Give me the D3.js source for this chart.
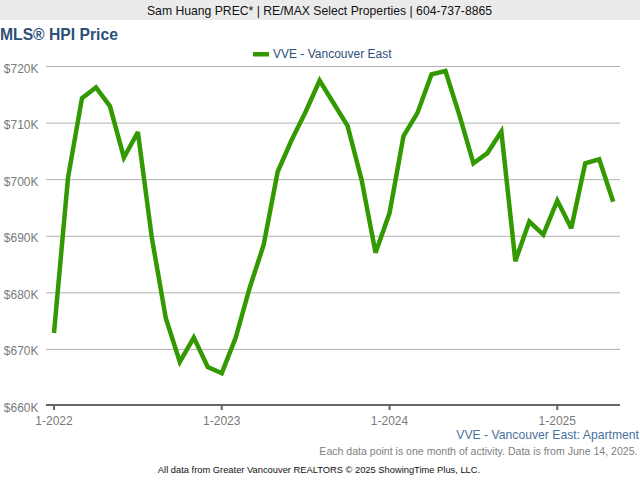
<!DOCTYPE html>
<html><head><meta charset="utf-8">
<script src="https://cdnjs.cloudflare.com/ajax/libs/d3/7.8.5/d3.min.js"></script>
<style>
html,body{margin:0;padding:0;background:#fff;overflow:hidden}
svg{display:block}
text{font-family:"Liberation Sans",Arial,sans-serif}
</style></head><body>
<svg id="c" width="640" height="480"></svg>
<script>
const headerText = "Sam Huang PREC* | RE/MAX Select Properties | 604-737-8865";
const titleText = "MLS® HPI Price";
const seriesName = "VVE - Vancouver East";
const subtitleText = "VVE - Vancouver East: Apartment";
const noteText = "Each data point is one month of activity. Data is from June 14, 2025.";
const creditText = "All data from Greater Vancouver REALTORS © 2025 ShowingTime Plus, LLC.";
const yTicks = [660,670,680,690,700,710,720];
const xTickIndex = [0,12,24,36];
const xTickLabels = ["1-2022","1-2023","1-2024","1-2025"];
const values = [672.9,700.3,714.4,716.3,713.0,703.9,708.4,689.7,675.5,667.8,672.1,666.9,
 665.8,672.1,680.9,688.5,701.4,707.0,712.0,717.5,713.5,709.5,700.0,687.1,
 694.1,707.7,711.8,718.6,719.2,711.4,702.9,704.7,708.5,685.6,692.6,690.3,
 696.3,691.4,702.9,703.6,696.1];

const svg = d3.select("#c");
const x = d3.scaleLinear().domain([0,40]).range([54,613.2]);
const y = d3.scaleLinear().domain([660,720]).range([406,66.5]);
const L = 46, R = 620;

svg.append("rect").attr("x",0).attr("y",0).attr("width",640).attr("height",20).attr("fill","#ebebeb");
svg.append("text").attr("x",319.5).attr("y",15).attr("text-anchor","middle").attr("font-size",12.2).attr("fill","#111").text(headerText);
svg.append("text").attr("x",0).attr("y",40).attr("font-size",15.7).attr("font-weight","bold").attr("fill","#2d5079").text(titleText);

// legend
svg.append("rect").attr("x",253).attr("y",52).attr("width",16).attr("height",4.5).attr("fill","#339900");
svg.append("text").attr("x",273).attr("y",58).attr("font-size",12).attr("fill","#2d5079").text(seriesName);

// grid
svg.append("g").selectAll("line").data(yTicks.filter(d=>d>660)).join("line")
 .attr("x1",L).attr("x2",R).attr("y1",d=>y(d)).attr("y2",d=>y(d))
 .attr("stroke","#b0b0b0").attr("stroke-width",1);

// y axis labels
svg.append("g").selectAll("text").data(yTicks).join("text")
 .attr("x",38.5).attr("y",d=>y(d)+6).attr("text-anchor","end").attr("font-size",12).attr("fill","#7a7a7a")
 .text(d=>"$"+d+"K");

// x axis
svg.append("line").attr("x1",L).attr("x2",R).attr("y1",y(660)-1).attr("y2",y(660)-1).attr("stroke","#666").attr("stroke-width",2);
const xg = svg.append("g").selectAll("g").data(xTickIndex).join("g");
xg.append("line").attr("x1",d=>x(d)).attr("x2",d=>x(d)).attr("y1",y(660)-1).attr("y2",y(660)+4).attr("stroke","#666").attr("stroke-width",2);
xg.append("text").attr("x",d=>x(d)).attr("y",425).attr("text-anchor","middle").attr("font-size",12).attr("fill","#7a7a7a")
 .text((d,i)=>xTickLabels[i]);

// line
svg.append("path").datum(values)
 .attr("d",d3.line().x((d,i)=>x(i)).y(d=>y(d)))
 .attr("fill","none").attr("stroke","#339900").attr("stroke-width",4.5).attr("stroke-linejoin","miter").attr("stroke-miterlimit",3);

svg.append("text").attr("x",639).attr("y",439).attr("text-anchor","end").attr("font-size",12.2).attr("fill","#4a72a0").text(subtitleText);
svg.append("text").attr("x",637.5).attr("y",455).attr("text-anchor","end").attr("font-size",10.55).attr("fill","#7f7f7f").text(noteText);
svg.append("text").attr("x",319).attr("y",473).attr("text-anchor","middle").attr("font-size",9.33).attr("fill","#111").text(creditText);
</script>
</body></html>
